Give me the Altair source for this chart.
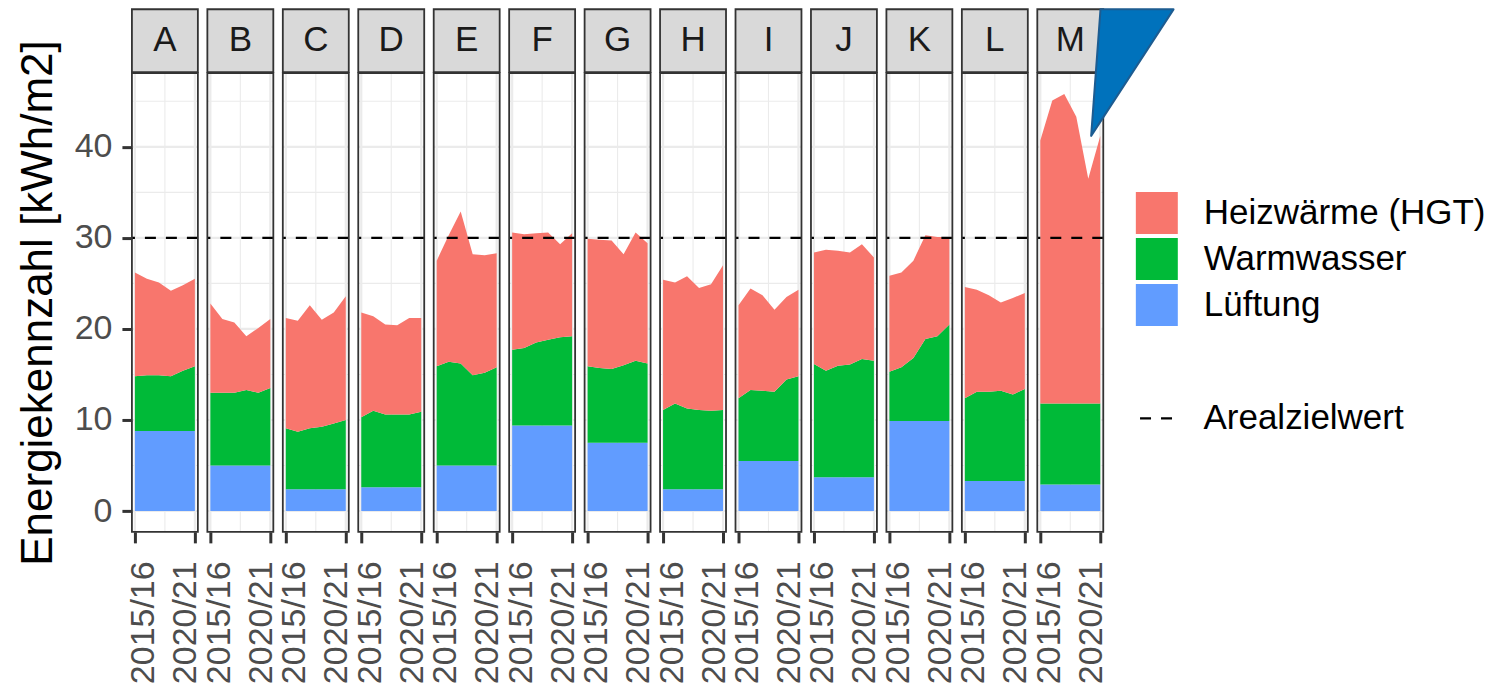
import altair as alt
import pandas as pd

FONT = "Liberation Sans"

panels = list("ABCDEFGHIJKLM")
years = ["2015/16", "2016/17", "2017/18", "2018/19", "2019/20", "2020/21"]
x_tick_years = [0, 5]
y_major = [0, 10, 20, 30, 40]
y_minor = [5, 15, 25, 35, 45]
x_major = [0, 5]
x_minor = [2.5]
target_value = 30
target_label = "Arealzielwert"

series_names = ["Heizwärme (HGT)", "Warmwasser", "Lüftung"]
series_colors = ["#F8766D", "#00BA38", "#619CFF"]

# upper edge of the Lüftung band (kWh/m2) per building, per year
lueftung_top = {
    "A": [8.8, 8.8, 8.8, 8.8, 8.8, 8.8],
    "B": [5.0, 5.0, 5.0, 5.0, 5.0, 5.0],
    "C": [2.4, 2.4, 2.4, 2.4, 2.4, 2.4],
    "D": [2.6, 2.6, 2.6, 2.6, 2.6, 2.6],
    "E": [5.0, 5.0, 5.0, 5.0, 5.0, 5.0],
    "F": [9.4, 9.4, 9.4, 9.4, 9.4, 9.4],
    "G": [7.5, 7.5, 7.5, 7.5, 7.5, 7.5],
    "H": [2.4, 2.4, 2.4, 2.4, 2.4, 2.4],
    "I": [5.5, 5.5, 5.5, 5.5, 5.5, 5.5],
    "J": [3.7, 3.7, 3.7, 3.7, 3.7, 3.7],
    "K": [9.9, 9.9, 9.9, 9.9, 9.9, 9.9],
    "L": [3.3, 3.3, 3.3, 3.3, 3.3, 3.3],
    "M": [2.9, 2.9, 2.9, 2.9, 2.9, 2.9],
}
# upper edge of the Warmwasser band
warmwasser_top = {
    "A": [14.8, 14.9, 14.9, 14.8, 15.4, 15.9],
    "B": [13.0, 13.0, 13.0, 13.3, 13.0, 13.5],
    "C": [9.1, 8.7, 9.1, 9.25, 9.6, 10.0],
    "D": [10.3, 11.0, 10.6, 10.6, 10.6, 10.9],
    "E": [15.9, 16.4, 16.2, 14.9, 15.2, 15.8],
    "F": [17.7, 17.9, 18.5, 18.8, 19.1, 19.2],
    "G": [15.9, 15.7, 15.6, 16.0, 16.5, 16.2],
    "H": [11.1, 11.8, 11.25, 11.1, 11.0, 11.1],
    "I": [12.4, 13.3, 13.2, 13.1, 14.45, 14.8],
    "J": [16.15, 15.4, 15.95, 16.1, 16.7, 16.5],
    "K": [15.3, 15.8, 16.8, 18.9, 19.2, 20.5],
    "L": [12.4, 13.1, 13.1, 13.2, 12.8, 13.4],
    "M": [11.8, 11.8, 11.8, 11.8, 11.8, 11.8],
}
# upper edge of the Heizwärme band (= total)
total_top = {
    "A": [26.2, 25.5, 25.1, 24.2, 24.8, 25.5],
    "B": [22.8, 21.1, 20.7, 19.2, 20.1, 21.1],
    "C": [21.2, 20.9, 22.6, 21.0, 21.8, 23.6],
    "D": [21.8, 21.4, 20.5, 20.4, 21.2, 21.2],
    "E": [27.5, 30.3, 32.9, 28.2, 28.1, 28.3],
    "F": [30.6, 30.4, 30.5, 30.6, 29.3, 30.5],
    "G": [29.9, 29.8, 29.7, 28.2, 30.6, 29.4],
    "H": [25.4, 25.1, 25.8, 24.5, 24.9, 27.0],
    "I": [22.6, 24.45, 23.7, 22.1, 23.5, 24.3],
    "J": [28.4, 28.7, 28.6, 28.4, 29.3, 27.85],
    "K": [25.85, 26.2, 27.5, 30.3, 30.1, 30.1],
    "L": [24.6, 24.3, 23.7, 22.9, 23.4, 23.95],
    "M": [40.7, 45.1, 45.8, 43.3, 36.5, 41.2],
}

# callout triangle in panel M (data units of that panel)
arrow_y = [41.2, 55.1]
arrow_x_left = [4.24, 5.02]
arrow_x_right = [4.24, 11.11]

rows = []
for p in panels:
    for i, _ in enumerate(years):
        rows.append({"panel": p, "i": i, "series": "Lüftung", "lo": 0.0, "hi": lueftung_top[p][i]})
        rows.append({"panel": p, "i": i, "series": "Warmwasser", "lo": lueftung_top[p][i], "hi": warmwasser_top[p][i]})
        rows.append({"panel": p, "i": i, "series": "Heizwärme (HGT)", "lo": warmwasser_top[p][i], "hi": total_top[p][i]})
df = pd.DataFrame(rows)

W, H = 66, 459
STRIP = 64
xs = alt.Scale(domain=[-0.25, 5.25], nice=False, zero=False)
ys = alt.Scale(domain=[-2.29, 48.09], nice=False, zero=False)
label_js = "[" + ",".join("'" + y + "'" for y in years) + "][datum.value]"

xaxis = alt.Axis(values=x_tick_years, labelExpr=label_js, title=None, grid=False, domain=False,
                 ticks=True, tickSize=11, tickWidth=3, tickColor="#333333",
                 labelAngle=270, labelAlign="right", labelBaseline="middle",
                 labelOffset={"condition": {"test": "datum.value == 0", "value": 9}, "value": -9},
                 labelFontSize=34, labelColor="#4D4D4D", labelFont=FONT, labelPadding=18,
                 labelOverlap=False, labelBound=False, labelFlush=False)


def yaxis_for(first):
    if not first:
        return None
    return alt.Axis(values=y_major, title="Energiekennzahl [kWh/m2]", grid=False, domain=False,
                    tickSize=10, tickWidth=3, tickColor="#333333",
                    labelFontSize=34, labelColor="#4D4D4D", labelFont=FONT, labelPadding=10,
                    titleFontSize=44, titleFont=FONT, titleColor="black", titleFontWeight="normal",
                    titlePadding=14, labelOverlap=False)


color_legend = alt.Legend(title=None, orient="none", legendX=1004.6, legendY=119,
                          symbolType="square", symbolSize=1764, symbolStrokeWidth=0, symbolOpacity=1,
                          labelFontSize=35, labelFont=FONT, labelColor="black", labelOffset=26,
                          labelLimit=500, rowPadding=4, padding=0)
dash_legend = alt.Legend(title=None, orient="none", legendX=1007.3, legendY=327,
                         symbolType="stroke", symbolSize=1156, symbolStrokeWidth=2.2,
                         symbolStrokeColor="black",
                         labelFontSize=35, labelFont=FONT, labelColor="black", labelOffset=28,
                         labelLimit=500, padding=0)


def panel(letter, first, last):
    ya = yaxis_for(first)
    d = df[df.panel == letter]
    hmaj = alt.Chart(pd.DataFrame({"v": y_major})).mark_rule(color="#EBEBEB", strokeWidth=2.2).encode(
        y=alt.Y("v:Q", scale=ys, axis=ya))
    hmin = alt.Chart(pd.DataFrame({"v": y_minor})).mark_rule(color="#EBEBEB", strokeWidth=1.1).encode(
        y=alt.Y("v:Q", scale=ys, axis=ya))
    vmaj = alt.Chart(pd.DataFrame({"v": x_major})).mark_rule(color="#EBEBEB", strokeWidth=2.2).encode(
        x=alt.X("v:Q", scale=xs, axis=xaxis))
    vmin = alt.Chart(pd.DataFrame({"v": x_minor})).mark_rule(color="#EBEBEB", strokeWidth=1.1).encode(
        x=alt.X("v:Q", scale=xs, axis=xaxis))
    areas = alt.Chart(d).mark_area(opacity=1).encode(
        x=alt.X("i:Q", scale=xs, axis=xaxis),
        y=alt.Y("hi:Q", scale=ys, axis=ya, stack=None),
        y2="lo:Q",
        color=alt.Color("series:N", scale=alt.Scale(domain=series_names, range=series_colors),
                        legend=color_legend),
    )
    target = alt.Chart(pd.DataFrame({"v": [target_value], "lab": [target_label]})).mark_rule(
        color="black", strokeWidth=2.2).encode(
        y=alt.Y("v:Q", scale=ys, axis=ya),
        strokeDash=alt.StrokeDash("lab:N", scale=alt.Scale(domain=[target_label], range=[[11, 10]]),
                                  legend=dash_legend),
    )
    sdf = pd.DataFrame({"p": [letter]})
    border = alt.Chart(sdf).mark_rect(filled=False, stroke="#333333", strokeWidth=1.8).encode(
        x=alt.value(0), x2=alt.value(W), y=alt.value(0), y2=alt.value(H))
    strip_rect = alt.Chart(sdf).mark_rect(fill="#D9D9D9", stroke="#333333", strokeWidth=1.8).encode(
        x=alt.value(0), x2=alt.value(W), y=alt.value(-STRIP), y2=alt.value(-1))
    strip_text = alt.Chart(sdf).mark_text(font=FONT, fontSize=35, color="#1A1A1A",
                                          baseline="middle", align="center").encode(
        x=alt.value(W / 2), y=alt.value(-STRIP / 2 - 1), text="p:N")
    layers = [hmin, hmaj, vmin, vmaj, areas, target, border, strip_rect, strip_text]
    if last:
        tri = pd.DataFrame({"ty": arrow_y, "tx1": arrow_x_left, "tx2": arrow_x_right})
        arrow = alt.Chart(tri).mark_area(orient="horizontal", fill="#0072BC", stroke="#1D5C91",
                                         strokeWidth=2, strokeJoin="round", opacity=1, clip=False).encode(
            y=alt.Y("ty:Q", scale=ys, axis=ya),
            x=alt.X("tx1:Q", scale=xs, axis=xaxis),
            x2="tx2:Q",
        )
        layers.append(arrow)
    return alt.layer(*layers).properties(width=W, height=H)


charts = [panel(p, i == 0, i == len(panels) - 1) for i, p in enumerate(panels)]
chart = alt.hconcat(*charts, spacing=9.5, bounds="flush").properties(
    padding={"left": 8, "top": 0, "right": 5, "bottom": 0}
).configure(font=FONT).configure_view(stroke=None)

chart.save("out.html", embed_options={"renderer": "svg", "actions": False})
